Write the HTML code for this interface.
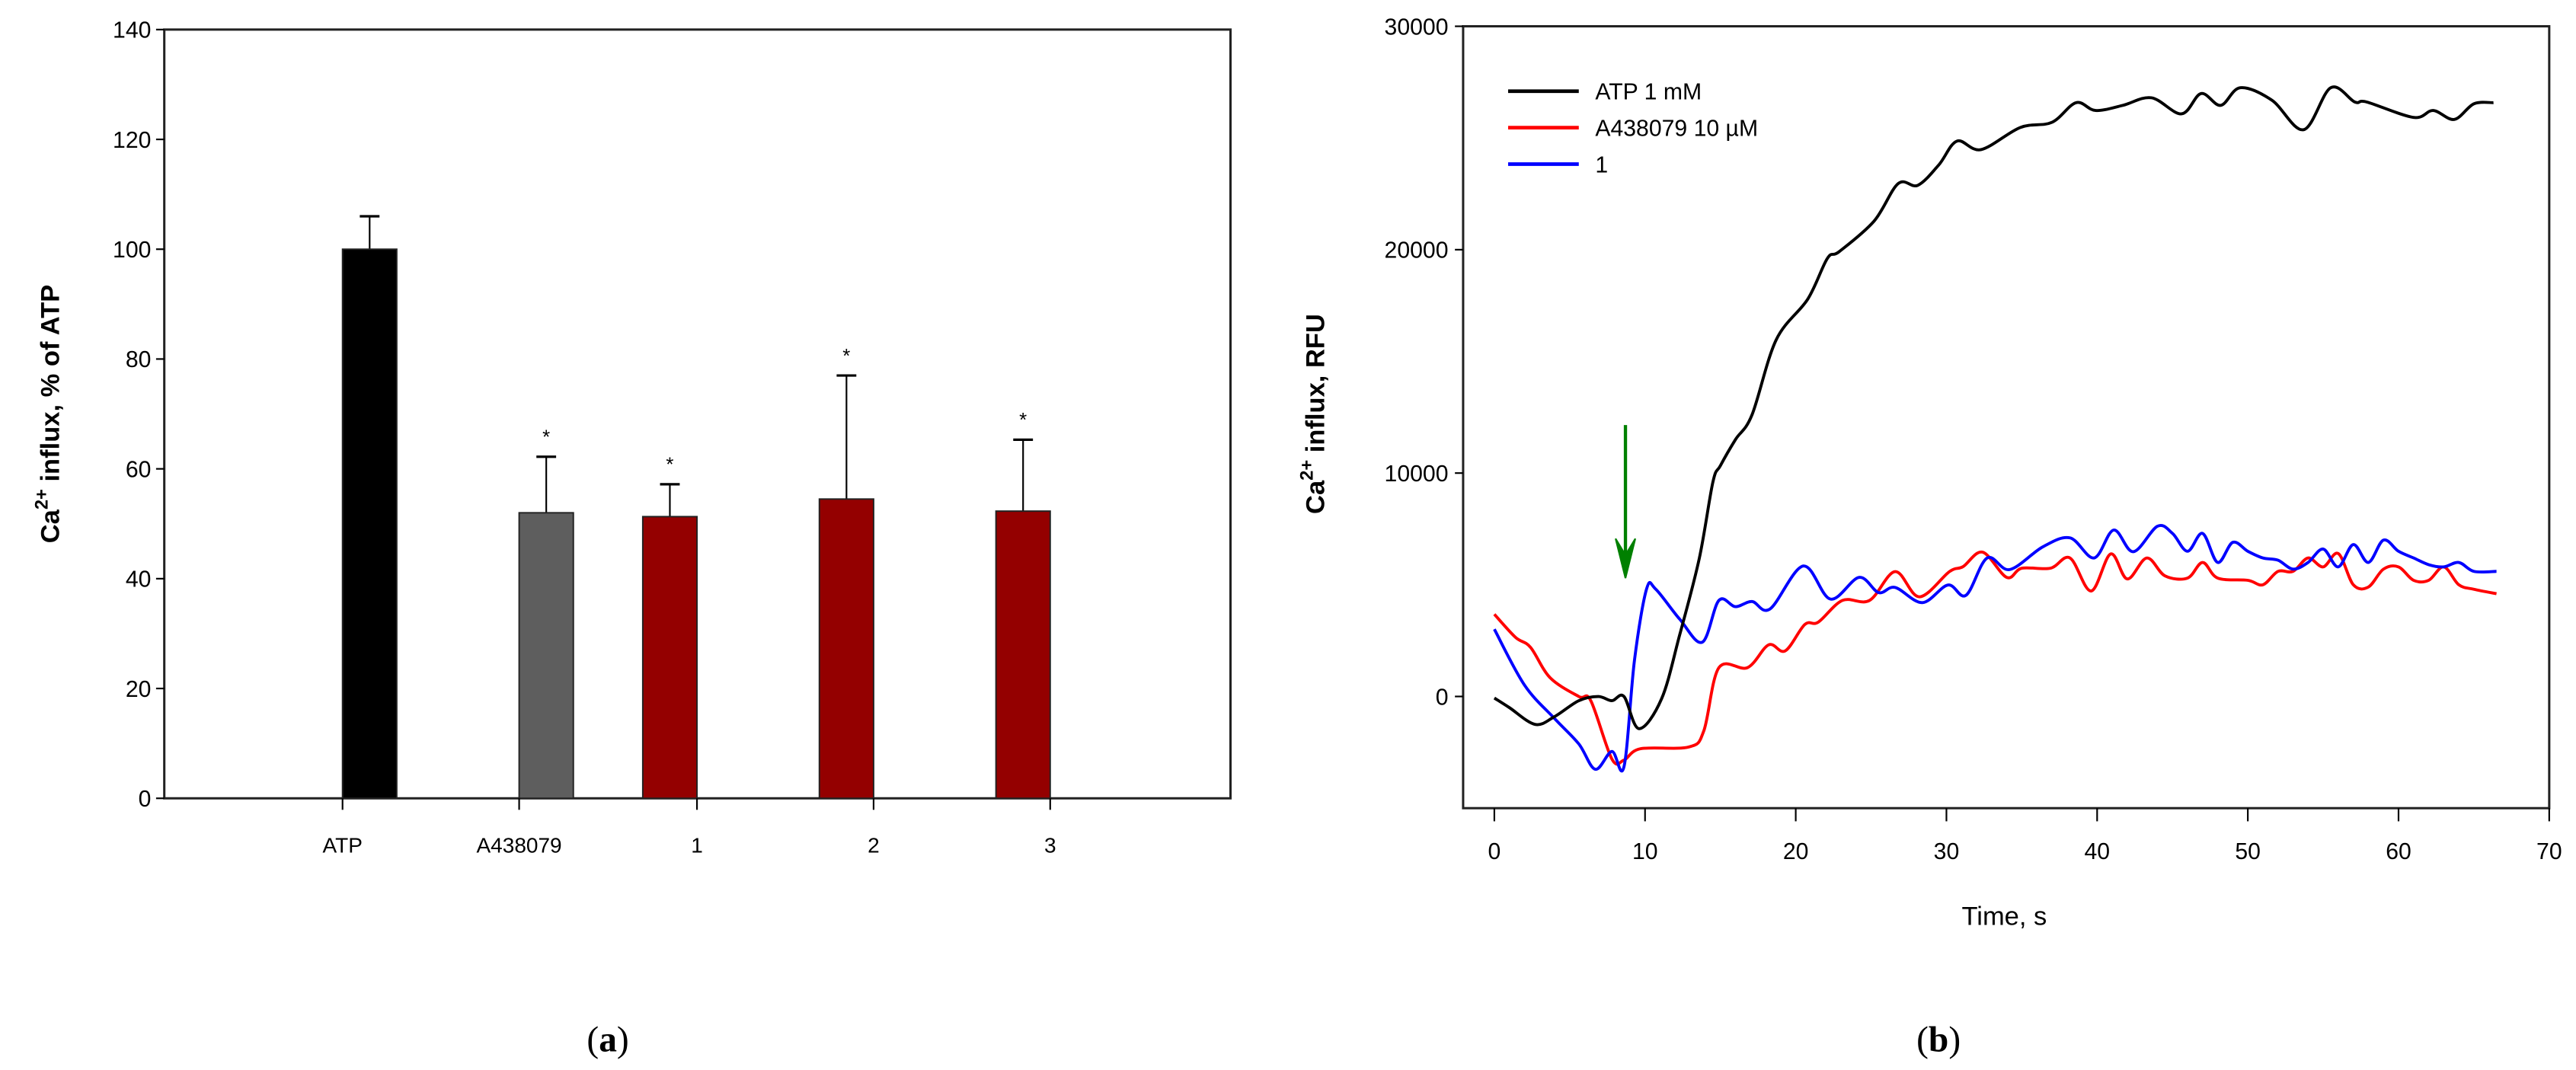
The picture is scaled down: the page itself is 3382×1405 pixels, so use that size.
<!DOCTYPE html>
<html><head><meta charset="utf-8">
<style>
html,body{margin:0;padding:0;background:#fff;}
svg{display:block;}
text{font-family:"Liberation Sans",Arial,sans-serif;}
</style></head>
<body>
<svg id="fig" width="3382" height="1405" viewBox="0 0 1568 651.4" xmlns="http://www.w3.org/2000/svg">
<g id="chartA"></g>
<g id="chartB"></g>
<text x="370" y="640" text-anchor="middle" font-size="22" style="font-family:'Liberation Serif',serif">(<tspan font-weight="bold">a</tspan>)</text>
<text x="1180" y="640" text-anchor="middle" font-size="22" style="font-family:'Liberation Serif',serif">(<tspan font-weight="bold">b</tspan>)</text>
</svg>
<script>
// ---- Chart A data ----
const barCategories = ["ATP","A438079","1","2","3"];
const barPositions = [0, 1, 1.7, 2.7, 3.7];
const barValues = [100, 52, 51.3, 54.5, 52.3];
const barErrors = [6, 10.2, 5.9, 22.5, 13];
const barSignificant = [false, true, true, true, true];
const barColors = ["#000000","#5e5e5e","#940000","#940000","#940000"];
const barLabelSide = [-1, -1, 1, 1, 1];
const barTicks = [0,20,40,60,80,100,120,140];

// ---- Chart B data ----
const lineTicksX = [0,10,20,30,40,50,60,70];
const lineTicksY = [0,10000,20000,30000];
const atpT = [0,1,2.7,4,5.6,6.9,7.8,8.6,9.6,11.1,12.3,13.6,14.5,15,16,17.1,18.7,20.8,22.1,22.9,25.2,26.8,28.1,29.5,30.7,32.3,34.9,37,38.6,39.9,41.7,43.6,45.6,46.9,48.2,49.5,51.6,53.7,55.5,57.1,57.9,61,62.3,63.7,65,66.3];
const atpV = [-70,-500,-1250,-900,-190,0,-190,0,-1440,-100,2760,6180,9590,10330,11500,12610,15960,17790,19610,19920,21280,22960,22880,23800,24860,24480,25470,25700,26580,26230,26460,26800,26080,26990,26460,27250,26690,25370,27250,26610,26610,25920,26230,25830,26530,26580];
const redT = [0,1.4,2.4,3.7,5.6,6.4,7.8,8.6,9.7,12.9,13.9,14.9,16.8,18.2,19.3,20.6,21.5,23.1,24.9,26.6,28.2,30.2,31.1,32.4,34,35,36.9,38.2,39.6,40.9,42,43.3,44.5,46,47,48,50,51,52,53,54,55,56,57,58,59,60,61,62,63,64,65,66.5];
const redV = [3680,2650,2200,840,0,-190,-2800,-2850,-2340,-2260,-1540,1290,1290,2310,2040,3220,3330,4300,4300,5590,4460,5590,5810,6460,5330,5740,5740,6200,4720,6380,5260,6200,5400,5300,6000,5300,5200,5000,5600,5600,6200,5800,6400,5000,4900,5700,5800,5200,5200,5800,5000,4800,4600];
const blueT = [0,2,4,5.6,6.7,7.8,8.6,9.3,10.1,10.7,12.3,13.8,14.9,16,17.1,18.3,20.5,22.3,24.2,25.5,26.6,28.4,30.1,31.3,32.7,34.2,36.4,38.2,39.8,41.1,42.4,44,45,46,47,48,49,50,51,52,53,54,55,56,57,58,59,60,61,62,63,64,65,66.5];
const blueV = [3010,510,-990,-2120,-3260,-2460,-3150,1630,4810,4810,3460,2430,4300,4020,4250,3920,5840,4360,5330,4650,4880,4200,4990,4530,6200,5680,6700,7100,6200,7450,6480,7620,7300,6500,7300,6000,6900,6500,6200,6100,5700,6000,6600,5800,6800,6000,7000,6500,6200,5900,5800,6000,5600,5600];
const legendLabels = ["ATP 1 mM","A438079 10 \u00B5M","1"];
const arrowTime = 8.7;
const arrowFrom = 12150, arrowTo = 5300;

const NS = "http://www.w3.org/2000/svg";
function mk(parent, tag, attrs){ const e=document.createElementNS(NS,tag); for(const k in attrs) e.setAttribute(k,attrs[k]); parent.appendChild(e); return e; }

// ---- Draw chart A ----
(function(){
  const g = document.getElementById('chartA');
  const L=100, R=749, T=18, B=486;
  const y = v => B - (v/140)*(B-T);
  const x = p => 225 + p*107.5;
  const frame = mk(g,'rect',{x:L,y:T,width:R-L,height:B-T,fill:'none',stroke:'#222','stroke-width':1.4});
  
  
  barTicks.forEach(t=>{
    const tk = mk(g,'line',{x1:L-5,x2:L,y1:y(t),y2:y(t),stroke:'#000','stroke-width':1});
    
    
    const lb = mk(g,'text',{x:L-8,y:y(t)+5,'text-anchor':'end','font-size':14});
    
    
    lb.textContent=t;
  });
  barCategories.forEach((c,i)=>{
    const cx=x(barPositions[i]), w=33;
    const top=y(barValues[i]), et=y(barValues[i]+barErrors[i]);
    const el = mk(g,'line',{x1:cx,x2:cx,y1:top,y2:et,stroke:'#000','stroke-width':1});
    
    
    const cap = mk(g,'line',{x1:cx-6,x2:cx+6,y1:et,y2:et,stroke:'#000','stroke-width':1.5});
    
    
    const r = mk(g,'rect',{x:cx-w/2,y:top,width:w,height:B-top,fill:barColors[i],stroke:'#222','stroke-width':0.9});
    
    
    if(barSignificant[i]){
      const s = mk(g,'text',{x:cx,y:et-8,'text-anchor':'middle','font-size':12});
      
      
      s.textContent='*';
    }
    const lx = cx + barLabelSide[i]*w/2;
    const tk = mk(g,'line',{x1:lx,x2:lx,y1:B,y2:B+7,stroke:'#000','stroke-width':1});
    
    
    const lb = mk(g,'text',{x:lx,y:519,'text-anchor':'middle','font-size':13});
    
    
    lb.textContent=c;
  });
  const t = mk(g,'text',{x:0,y:0,'text-anchor':'middle','font-size':16,'font-weight':'bold',transform:'translate(36,252) rotate(-90)'});
  
  
  t.innerHTML='Ca<tspan dy="-7" font-size="11">2+</tspan><tspan dy="7"> influx, % of ATP</tspan>';
})();

// ---- Draw chart B ----
(function(){
  const g = document.getElementById('chartB');
  const L=890.6, R=1551.7, T=16, B=492;
  const x = t => 909.6 + t*(R-909.6)/70;
  const y = v => 424 - v*136/10000;
  const frame = mk(g,'rect',{x:L,y:T,width:R-L,height:B-T,fill:'none',stroke:'#222','stroke-width':1.4});
  
  
  lineTicksX.forEach(t=>{
    const tk = mk(g,'line',{x1:x(t),x2:x(t),y1:B,y2:B+8,stroke:'#000','stroke-width':1});
    
    
    const lb = mk(g,'text',{x:x(t),y:523,'text-anchor':'middle','font-size':14});
    
    
    lb.textContent=t;
  });
  lineTicksY.forEach(v=>{
    const tk = mk(g,'line',{x1:L-5,x2:L,y1:y(v),y2:y(v),stroke:'#000','stroke-width':1});
    
    
    const lb = mk(g,'text',{x:L-9,y:y(v)+5,'text-anchor':'end','font-size':14});
    
    
    lb.textContent=v;
  });
  function smooth(ts,vs){
    const p=ts.map((t,i)=>[x(t),y(vs[i])]);
    let d='M'+p[0][0].toFixed(2)+','+p[0][1].toFixed(2);
    for(let i=0;i<p.length-1;i++){
      const p0=p[i-1]||p[i], p1=p[i], p2=p[i+1], p3=p[i+2]||p2;
      const c1=[p1[0]+(p2[0]-p0[0])/6, p1[1]+(p2[1]-p0[1])/6];
      const c2=[p2[0]-(p3[0]-p1[0])/6, p2[1]-(p3[1]-p1[1])/6];
      d+=' C'+c1.map(n=>n.toFixed(2)).join(',')+' '+c2.map(n=>n.toFixed(2)).join(',')+' '+p2.map(n=>n.toFixed(2)).join(',');
    }
    return d;
  }
  const series=[[redT,redV,'#ff0000','line-a438079'],[blueT,blueV,'#0000ff','line-compound-1'],[atpT,atpV,'#000000','line-atp']];
  series.forEach(s=>{
    const pth = mk(g,'path',{d:smooth(s[0],s[1]),fill:'none',stroke:s[2],'stroke-width':1.8,'stroke-linejoin':'round'});
    
    
  });
  // arrow
  const ax=x(arrowTime), ay1=y(arrowFrom), ay2=y(arrowTo);
  const ar = mk(g,'line',{x1:ax,x2:ax,y1:ay1,y2:ay2-6,stroke:'#008000','stroke-width':2});
  
  
  const ah = mk(g,'path',{d:`M${ax-6},${ay2-24} L${ax},${ay2} L${ax+6},${ay2-24} L${ax},${ay2-14} Z`,fill:'#008000',stroke:'#008000','stroke-width':1});
  
  
  // legend
  const lcol=['#000000','#ff0000','#0000ff'];
  legendLabels.forEach((lab,i)=>{
    const ly=55.5+i*22.2;
    const ln = mk(g,'line',{x1:918,x2:961,y1:ly,y2:ly,stroke:lcol[i],'stroke-width':2.2});
    
    
    const tx = mk(g,'text',{x:971,y:ly+5,'font-size':14});
    
    
    tx.textContent=lab;
  });
  const xt = mk(g,'text',{x:1220,y:563,'text-anchor':'middle','font-size':16});
  
  
  xt.textContent='Time, s';
  const yt = mk(g,'text',{x:0,y:0,'text-anchor':'middle','font-size':16,'font-weight':'bold',transform:'translate(806,252) rotate(-90)'});
  
  
  yt.innerHTML='Ca<tspan dy="-7" font-size="11">2+</tspan><tspan dy="7"> influx, RFU</tspan>';
})();
</script>
</body></html>
